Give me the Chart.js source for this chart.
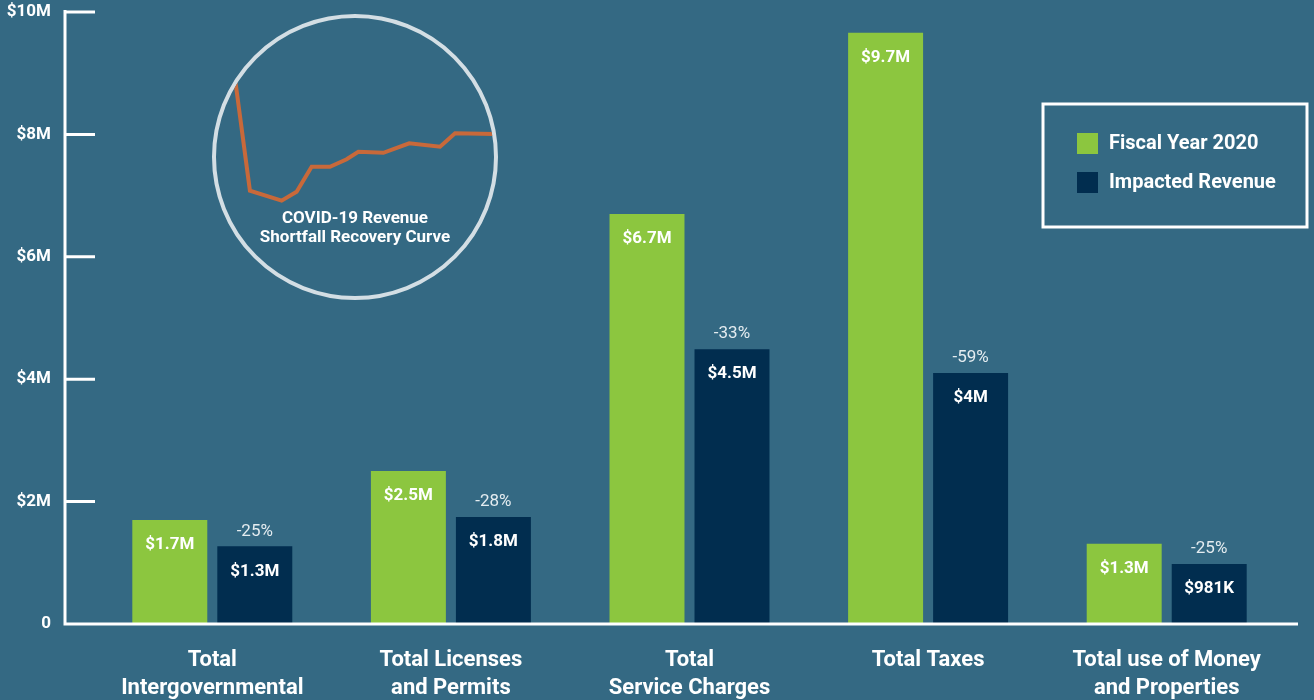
<!DOCTYPE html>
<html>
<head>
<meta charset="utf-8">
<script src="https://cdn.jsdelivr.net/npm/chart.js@4.4.1/dist/chart.umd.min.js"></script>
<style>
html, body { margin: 0; padding: 0; background: #346983; }
#wrap { position: relative; width: 1314px; height: 700px; overflow: hidden; }
#inset { position: absolute; left: 212px; top: 14px; width: 286px; height: 286px; box-sizing: border-box;
         border: 4px solid #d3dee4; border-radius: 50%; overflow: hidden; }
#insetText { position: absolute; left: 212px; top: 208px; width: 286px; text-align: center;
             color: #fff; font: bold 17px Roboto, sans-serif; line-height: 19px; }
</style>
</head>
<body>
<div id="wrap">
  <canvas id="chart" width="1314" height="700"></canvas>
  <div id="inset"><canvas id="curve" width="278" height="278"></canvas></div>
  <div id="insetText">COVID-19 Revenue<br>Shortfall Recovery Curve</div>
</div>
<script>
// bar chart data
const categories = [
	['Total', 'Intergovernmental'],
	['Total Licenses', 'and Permits'],
	['Total', 'Service Charges'],
	['Total Taxes'],
	['Total use of Money', 'and Properties']
];
const fiscal2020 = [1.70, 2.50, 6.70, 9.66, 1.31];
const impacted   = [1.27, 1.75, 4.49, 4.10, 0.98];
const fiscalLabels   = ['$1.7M', '$2.5M', '$6.7M', '$9.7M', '$1.3M'];
const impactedLabels = ['$1.3M', '$1.8M', '$4.5M', '$4M', '$981K'];
const changeLabels   = ['-25%', '-28%', '-33%', '-59%', '-25%'];
const yTickLabels = ['0', '$2M', '$4M', '$6M', '$8M', '$10M'];
const seriesNames = ['Fiscal Year 2020', 'Impacted Revenue'];

// inset recovery curve (relative units, 0-100)
const curveX = [5, 12.2, 23.6, 29.0, 34.4, 41.0, 47.0, 51.2, 60.2, 63.8, 69.5, 80.6, 86.0, 100];
const curveY = [92, 37.9, 34.3, 37.5, 46.5, 46.5, 49.2, 51.9, 51.5, 52.8, 54.9, 53.7, 58.5, 58.3];

const GREEN = '#8cc63f';
const NAVY = '#012d4f';
const FONT = 'Roboto, sans-serif';

const decor = {
	id: 'decor',
	afterDatasetsDraw(chart) {
		const ctx = chart.ctx;
		const area = chart.chartArea;
		const y = chart.scales.y;
		const axisX = area.left - 28;

		ctx.save();
		ctx.strokeStyle = '#ffffff';
		ctx.lineWidth = 3;
		ctx.beginPath();
		ctx.moveTo(axisX, area.top - 2);
		ctx.lineTo(axisX, area.bottom + 1.5);
		ctx.moveTo(axisX - 1.5, area.bottom);
		ctx.lineTo(area.right + 12, area.bottom);
		y.ticks.forEach(t => {
			const py = y.getPixelForValue(t.value);
			if (t.value === 0) return;
			ctx.moveTo(axisX, py);
			ctx.lineTo(area.left + 2, py);
		});
		ctx.stroke();

		// bar labels
		ctx.textAlign = 'center';
		ctx.textBaseline = 'middle';
		chart.data.datasets.forEach((ds, di) => {
			const meta = chart.getDatasetMeta(di);
			meta.data.forEach((bar, i) => {
				ctx.fillStyle = '#ffffff';
				ctx.font = 'bold 17px ' + FONT;
				ctx.fillText(ds.valueLabels[i], bar.x, bar.y + 25);
				if (di === 1) {
					ctx.fillStyle = '#e4ecf0';
					ctx.font = '17px ' + FONT;
					ctx.fillText(changeLabels[i], bar.x, bar.y - 15);
				}
			});
		});

		// legend box
		ctx.lineWidth = 3;
		ctx.strokeRect(1043, 104, 264, 123);
		ctx.textAlign = 'left';
		ctx.font = 'bold 20px ' + FONT;
		chart.data.datasets.forEach((ds, di) => {
			const ly = 133 + di * 39;
			ctx.fillStyle = ds.backgroundColor;
			ctx.fillRect(1077, ly, 21, 21);
			ctx.fillStyle = '#ffffff';
			ctx.fillText(ds.label, 1109, ly + 11);
		});
		ctx.restore();
	}
};

new Chart(document.getElementById('chart'), {
	type: 'bar',
	data: {
		labels: categories,
		datasets: [
			{ label: seriesNames[0], data: fiscal2020, backgroundColor: GREEN, valueLabels: fiscalLabels },
			{ label: seriesNames[1], data: impacted, backgroundColor: NAVY, valueLabels: impactedLabels }
		]
	},
	options: {
		responsive: false,
		animation: false,
		events: [],
		categoryPercentage: 0.7125,
		barPercentage: 0.882,
		layout: { padding: { top: 12, right: 28, left: 0, bottom: 0 } },
		plugins: { legend: { display: false }, tooltip: { enabled: false } },
		scales: {
			x: {
				grid: { display: false, drawTicks: false },
				border: { display: false },
				ticks: {
					color: '#ffffff',
					padding: 22,
					maxRotation: 0,
					autoSkip: false,
					font: { family: FONT, size: 22, weight: 'bold', lineHeight: 28 / 22 }
				},
				afterFit: s => { s.height = 76; s.paddingLeft = 0; s.paddingRight = 0; }
			},
			y: {
				min: 0,
				max: 10,
				grid: { display: false, drawTicks: false },
				border: { display: false },
				ticks: {
					stepSize: 2,
					color: '#ffffff',
					padding: 42,
					font: { family: FONT, size: 17, weight: 'bold' },
					callback: v => yTickLabels[Math.round(v / 2)]
				},
				afterFit: s => { s.width = 93; s.paddingTop = 0; s.paddingBottom = 0; }
			}
		}
	},
	plugins: [decor]
});

new Chart(document.getElementById('curve'), {
	type: 'line',
	data: {
		datasets: [{
			data: curveX.map((x, i) => ({ x: x, y: curveY[i] })),
			borderColor: '#c8693a',
			borderWidth: 4,
			pointRadius: 0,
			tension: 0,
			fill: false
		}]
	},
	options: {
		responsive: false,
		animation: false,
		events: [],
		layout: { padding: 0 },
		plugins: { legend: { display: false }, tooltip: { enabled: false } },
		scales: {
			x: { type: 'linear', display: false, min: 0, max: 100 },
			y: { display: false, min: 0, max: 100 }
		}
	}
});
</script>
</body>
</html>
